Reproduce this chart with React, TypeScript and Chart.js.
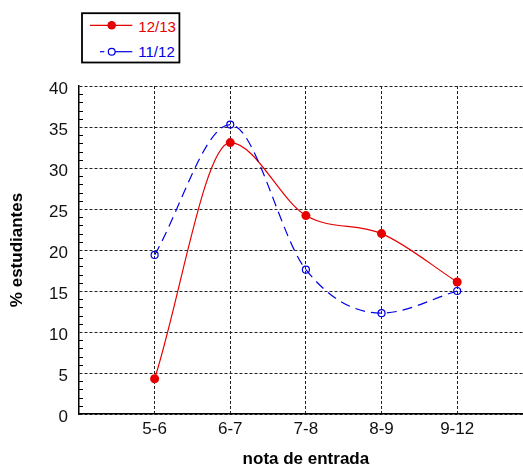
import React, { useEffect, useRef } from 'react';
import { Chart, registerables } from 'chart.js';

Chart.register(...registerables);

// ---- data ----
const categories = ['5-6', '6-7', '7-8', '8-9', '9-12'];
const categoryPositions = [1, 2, 3, 4, 5];
const series1213 = [4.3, 33.1, 24.2, 22.0, 16.1];
const series1112 = [19.4, 35.3, 17.6, 12.3, 15.0];
const yTickValues = [0, 5, 10, 15, 20, 25, 30, 35, 40];
const seriesLabels = ['12/13', '11/12'];

const RED = '#e60000';
const BLUE = '#0000e6';
const FONT = '"Liberation Sans", Arial, Helvetica, sans-serif';

const minorTicks = {
  id: 'minorTicks',
  afterDraw(chart: any) {
    const y = chart.scales.y;
    const left = chart.chartArea.left;
    const ctx = chart.ctx;
    ctx.save();
    ctx.strokeStyle = '#000';
    ctx.lineWidth = 1;
    ctx.beginPath();
    for (let v = y.min; v <= y.max; v += 1) {
      if (v % 5 === 0) continue;
      const py = Math.round(y.getPixelForValue(v)) + 0.5;
      ctx.moveTo(left, py);
      ctx.lineTo(left + 4, py);
    }
    ctx.stroke();
    ctx.restore();
  },
};

export default function App() {
  const ref = useRef<HTMLCanvasElement | null>(null);

  useEffect(() => {
    if (!ref.current) return;
    const toPoints = (vals: number[]) =>
      categoryPositions.map((x, i) => ({ x, y: vals[i] }));
    const chart = new Chart(ref.current, {
      type: 'line',
      data: {
        datasets: [
          {
            label: seriesLabels[1],
            data: toPoints(series1112),
            borderColor: BLUE,
            backgroundColor: BLUE,
            borderWidth: 1.2,
            borderDash: [10, 6],
            pointRadius: 3.5,
            pointBorderWidth: 1.2,
            pointBorderColor: BLUE,
            pointBackgroundColor: 'rgba(0,0,0,0)',
            cubicInterpolationMode: 'monotone',
            fill: false,
          },
          {
            label: seriesLabels[0],
            data: toPoints(series1213),
            borderColor: RED,
            backgroundColor: RED,
            borderWidth: 1.2,
            pointRadius: 4.5,
            pointBorderWidth: 0,
            pointBackgroundColor: RED,
            cubicInterpolationMode: 'monotone',
            fill: false,
          },
        ],
      },
      options: {
        responsive: false,
        animation: false,
        layout: { padding: { top: 86, right: 0, left: 0, bottom: 0 } },
        plugins: { legend: { display: false }, tooltip: { enabled: false } },
        scales: {
          x: {
            type: 'linear',
            min: 0,
            max: 6,
            afterBuildTicks: (s: any) => {
              s.ticks = categoryPositions.map((v) => ({ value: v }));
            },
            afterFit: (s: any) => {
              s.height = 57;
            },
            grid: { color: '#222', lineWidth: 1, drawTicks: false },
            border: { display: true, color: '#000', width: 1.5, dash: [3, 2] },
            ticks: {
              callback: (v: any) => {
                const i = categoryPositions.indexOf(Number(v));
                return i >= 0 ? categories[i] : '';
              },
              font: { family: FONT, size: 17 },
              color: '#111',
              padding: 5,
              autoSkip: false,
              maxRotation: 0,
            },
            title: {
              display: true,
              text: 'nota de entrada',
              font: { family: FONT, size: 17, weight: 'bold' },
              color: '#000',
              padding: { top: 0, bottom: 1 },
            },
          },
          y: {
            type: 'linear',
            min: 0,
            max: 40,
            afterBuildTicks: (s: any) => {
              s.ticks = yTickValues.map((v) => ({ value: v }));
            },
            afterFit: (s: any) => {
              s.width = 79;
            },
            grid: { color: '#222', lineWidth: 1, drawTicks: false },
            border: { display: true, color: '#000', width: 1.5, dash: [3, 2] },
            ticks: {
              font: { family: FONT, size: 17 },
              color: '#111',
              padding: 11,
              labelOffset: 3,
            },
            title: {
              display: true,
              text: '% estudiantes',
              font: { family: FONT, size: 17, weight: 'bold' },
              color: '#000',
              padding: { top: 7, bottom: 0 },
            },
          },
        },
      } as any,
      plugins: [minorTicks],
    });
    return () => chart.destroy();
  }, []);

  return (
    <div
      style={{
        position: 'absolute',
        left: 0,
        top: 0,
        width: 523,
        height: 471,
        overflow: 'hidden',
        background: '#fff',
      }}
    >
      <canvas ref={ref} width={538} height={471} style={{ display: 'block' }} />
      <svg
        width={523}
        height={80}
        style={{ position: 'absolute', left: 0, top: 0 }}
      >
        <rect x={82} y={13.2} width={97.4} height={49.3} fill="#fff" stroke="#000" strokeWidth={1.8} />
        <line x1={90} y1={25.3} x2={132.3} y2={25.3} stroke={RED} strokeWidth={1.2} />
        <circle cx={111.7} cy={25.3} r={4.3} fill={RED} />
        <text x={138.3} y={31.5} fill={RED} fontFamily={FONT} fontSize={15}>
          {seriesLabels[0]}
        </text>
        <line x1={100} y1={51.7} x2={104.3} y2={51.7} stroke={BLUE} strokeWidth={1.2} />
        <line x1={115} y1={51.7} x2={132.3} y2={51.7} stroke={BLUE} strokeWidth={1.2} />
        <circle cx={111.7} cy={51.7} r={3.4} fill="none" stroke={BLUE} strokeWidth={1.2} />
        <text x={138.3} y={57.3} fill={BLUE} fontFamily={FONT} fontSize={15}>
          {seriesLabels[1]}
        </text>
      </svg>
    </div>
  );
}
